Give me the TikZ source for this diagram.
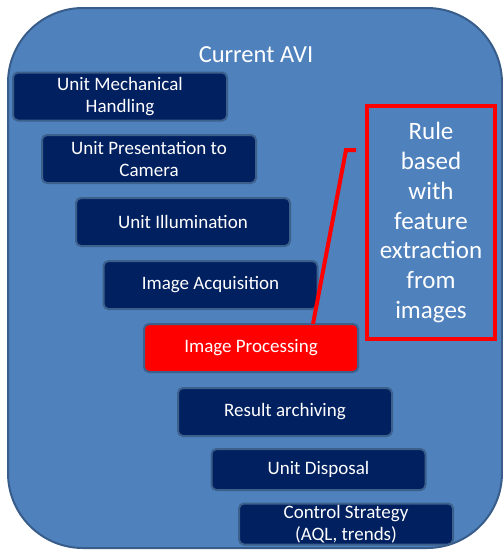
\documentclass[tikz,border=0pt]{standalone}
\usepackage{fontspec}
\setmainfont{Carlito}
\usepackage{tikz}

\definecolor{avifill}{RGB}{79,129,189}
\definecolor{aviedge}{RGB}{56,93,138}
\definecolor{stagenavy}{RGB}{0,32,96}
\definecolor{stageedge}{RGB}{60,96,140}

\begin{document}
\begin{tikzpicture}[x=1pt,y=-1pt,
	stage/.style={draw=stageedge, line width=2pt, fill=stagenavy, rounded corners=5pt,
		text=white, align=center, inner sep=0pt, minimum width=214pt, minimum height=48pt,
		font=\fontsize{19}{22}\selectfont}]
	\useasboundingbox (0,0) rectangle (503,550);
	\draw[fill=avifill, draw=aviedge, line width=2pt, rounded corners=75pt] (8,8) rectangle (502,548);
	\node[text=white, font=\fontsize{24.5}{28}\selectfont] (title) at (256,55) {Current AVI};

	\node[stage] (mech) at (120,96.5) {Unit Mechanical\\Handling};
	\node[stage] (pres) at (149,159) {Unit Presentation to\\Camera};
	\node[stage] (illum) at (183,222) {Unit Illumination};
	\node[stage] (acq) at (210.5,285) {Image Acquisition};
	\node[stage, fill=red] (proc) at (251,348) {Image Processing};
	\node[stage] (arch) at (285,412) {Result archiving};
	\node[stage, minimum height=41pt] (disp) at (318.5,469.5) {Unit Disposal};
	\node[stage, minimum height=41pt] (ctrl) at (346,524) {Control Strategy\\(AQL, trends)};

	% callout
	\node[draw=red, line width=4pt, fill=avifill, minimum width=128pt, minimum height=233pt,
		text=white, align=center, inner sep=0pt, font=\fontsize{25}{29.7}\selectfont]
		(rule) at (431,222.5) {Rule\\based\\with\\feature\\extraction\\from\\images};
	\coordinate (hook) at (356,150);
	\coordinate (bend) at (346,150);
	\coordinate (tip) at (313,324);
	\draw[red, line width=4pt] (hook) -- (bend) -- (tip);
\end{tikzpicture}
\end{document}
